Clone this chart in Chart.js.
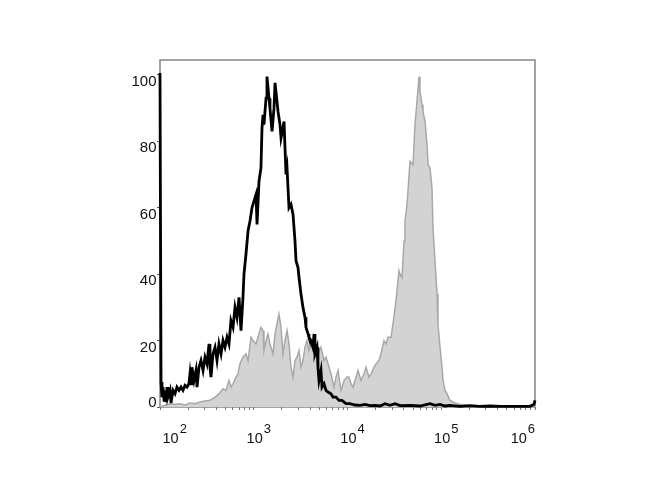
<!DOCTYPE html>
<html><head><meta charset="utf-8">
<script src="https://cdn.jsdelivr.net/npm/chart.js@4"></script>
<style>html,body{margin:0;padding:0;background:#fff}#c{display:block}</style>
</head><body>
<canvas id="c" width="670" height="500"></canvas>
<script>
// log10 fluorescence intensity and event counts (% of max)
const blackLog = [2.000,2.011,2.021,2.032,2.043,2.053,2.064,2.075,2.085,2.107,2.117,2.139,2.160,2.181,2.203,2.224,2.245,2.267,2.288,2.309,2.320,2.331,2.341,2.363,2.384,2.395,2.416,2.437,2.459,2.480,2.501,2.523,2.533,2.544,2.565,2.587,2.608,2.629,2.651,2.672,2.693,2.715,2.736,2.757,2.779,2.800,2.821,2.843,2.864,2.885,2.896,2.917,2.939,2.960,2.981,2.992,3.013,3.024,3.035,3.056,3.077,3.088,3.099,3.109,3.131,3.141,3.163,3.173,3.195,3.216,3.227,3.248,3.259,3.280,3.291,3.312,3.323,3.344,3.355,3.376,3.397,3.419,3.440,3.451,3.472,3.483,3.504,3.525,3.547,3.557,3.579,3.589,3.611,3.632,3.643,3.653,3.675,3.685,3.696,3.717,3.728,3.749,3.771,3.792,3.824,3.845,3.877,3.909,3.941,3.984,4.027,4.080,4.133,4.187,4.240,4.293,4.347,4.400,4.453,4.507,4.560,4.667,4.773,4.880,4.933,4.987,5.040,5.093,5.200,5.307,5.413,5.520,5.627,5.733,5.840,5.947,5.989,6.000];
const blackCount = [100.6,7.5,3,6,2,5,1.5,6,3,5,1.2,5,4,6,5,6,5,6.5,6,7,10,7,12,8,11,6,12,14,11,15,13,19,12,9,16,18,14,19,16,20,18,21,19,26,24,30,27,33,23,33,40,46,53,56,60,61,63,64,55,68,72,84,88,85,93,99.5,93,90,83,90,97.6,92,89,85,81,84,86,70,72,60,61,58,50,44,42,39,34,30,27,24,22,21,20,18,22,16,18,12,8,11,6,7,5,4.5,4,3,3,2,2,1,1,0.6,0.5,0.8,0.4,0.5,0.3,1.0,0.5,1.0,0.4,0.5,0.3,1.0,0.5,0.8,0.3,0.5,0.2,0.4,0.2,0.3,0.2,0.2,0.2,0.2,0.8,2];
const grayLog = [2.000,2.053,2.107,2.160,2.213,2.267,2.320,2.373,2.427,2.480,2.533,2.587,2.629,2.672,2.704,2.736,2.757,2.779,2.811,2.832,2.853,2.885,2.917,2.939,2.971,2.992,3.024,3.045,3.077,3.099,3.109,3.131,3.152,3.173,3.205,3.227,3.248,3.269,3.291,3.312,3.333,3.355,3.376,3.397,3.419,3.440,3.461,3.483,3.504,3.525,3.547,3.568,3.589,3.611,3.632,3.664,3.685,3.717,3.749,3.771,3.792,3.824,3.856,3.877,3.899,3.931,3.963,3.995,4.016,4.037,4.059,4.091,4.112,4.144,4.176,4.197,4.229,4.251,4.283,4.304,4.336,4.357,4.389,4.411,4.432,4.464,4.485,4.517,4.528,4.549,4.560,4.581,4.603,4.613,4.635,4.645,4.667,4.677,4.699,4.720,4.741,4.763,4.773,4.795,4.805,4.827,4.848,4.859,4.880,4.901,4.912,4.933,4.955,4.965,4.987,5.008,5.019,5.040,5.061,5.093,5.125,5.168,5.221,5.275,5.328,5.381,5.467,6.000];
const grayCount = [0,0.5,1,0.8,1,0.6,1.2,1,1.5,1.8,2,3,4,5.5,5,8,6,7,9,10,13,15,16,14,21,20,19,21,24,23,17,20,22,19,16,22,25,28,24,16,20,23,19,12,9,14,15,17,12,14,18,20,17,19,17,15,16,18,14,15,13,10,6,9,11,5,8,9,9,7,6,9,11,8,10,12,9,10,12,13,14,16,20,19,21,21,25,32,35,41,40,39,50,56,61,61,74,74,73,85,92,99.5,95,91,89,86,79,73,72,66,54,44,34,25,18,12,8,5,4,2,1.5,1,0.7,0.5,0.4,0.2,0,0];
const yTickValues = [0,20,40,60,80,100];
const xDecades = [2,3,4,5,6];
const xBase = '10';

const toPts = (xs, ys) => xs.map((x, i) => ({x: x, y: ys[i]}));

const framePlugin = {
  id: 'frame',
  beforeDatasetsDraw(chart) {
    const {ctx, chartArea: a} = chart;
    ctx.save();
    ctx.strokeStyle = '#858585';
    ctx.lineWidth = 1.5;
    ctx.strokeRect(a.left, a.top, a.right - a.left, a.bottom - a.top);
    ctx.restore();
  },
  afterDraw(chart) {
    const {ctx, chartArea: a, scales} = chart;
    ctx.save();
    ctx.fillStyle = '#111111';
    ctx.font = '15px "Liberation Sans", Arial, sans-serif';
    ctx.textAlign = 'right';
    ctx.textBaseline = 'middle';
    yTickValues.forEach(v => {
      const y = Math.min(scales.y.getPixelForValue(v) + 7, a.bottom - 4.5);
      ctx.fillText(String(v), a.left - 3.5, y);
    });
    ctx.textAlign = 'left';
    ctx.textBaseline = 'alphabetic';
    const baseFont = '14.5px "Liberation Sans", Arial, sans-serif';
    const expFont = '13px "Liberation Sans", Arial, sans-serif';
    xDecades.forEach(d => {
      const e = String(d);
      ctx.font = baseFont; const wb = ctx.measureText(xBase).width;
      ctx.font = expFont; const we = ctx.measureText(e).width;
      const w = wb + 1 + we;
      let left = scales.x.getPixelForValue(d) + 5 - w / 2;
      left = Math.max(left, a.left + 2.5);
      if (left + w > a.right) left = a.right - w;
      ctx.font = baseFont; ctx.fillText(xBase, left, a.bottom + 36);
      ctx.font = expFont; ctx.fillText(e, left + wb + 1, a.bottom + 26);
    });
    ctx.restore();
  }
};

const xTicks = [];
xDecades.forEach(d => {
  if (d < 6) { for (let k = 1; k <= 9; k++) xTicks.push(d + Math.log10(k)); }
  else xTicks.push(d);
});

new Chart(document.getElementById('c'), {
  type: 'line',
  data: {
    datasets: [
      {
        data: toPts(blackLog, blackCount),
        borderColor: '#000000',
        borderWidth: 2.8,
        fill: false,
        pointRadius: 0,
        tension: 0,
        clip: 4
      },
      {
        data: toPts(grayLog, grayCount),
        borderColor: '#a8a8a8',
        backgroundColor: '#d3d3d3',
        borderWidth: 1.5,
        fill: 'origin',
        pointRadius: 0,
        tension: 0
      }
    ]
  },
  options: {
    responsive: false,
    animation: false,
    devicePixelRatio: 1,
    layout: {padding: {top: 60, right: 135, left: 0, bottom: 0}},
    plugins: {legend: {display: false}, tooltip: {enabled: false}},
    scales: {
      x: {
        type: 'linear', min: 2, max: 6,
        afterBuildTicks: s => { s.ticks = xTicks.map(v => ({value: v})); },
        afterFit: s => { s.height = 93; },
        ticks: {display: false},
        grid: {drawOnChartArea: false, drawTicks: true, tickLength: 3, color: '#777777', lineWidth: 1},
        border: {display: false}
      },
      y: {
        type: 'linear', min: 0, max: 104.5,
        afterBuildTicks: s => { s.ticks = yTickValues.map(v => ({value: v})); },
        afterFit: s => { s.width = 160; },
        ticks: {display: false},
        grid: {drawOnChartArea: false, drawTicks: true, tickLength: 3, color: '#555555', lineWidth: 1},
        border: {display: false}
      }
    }
  },
  plugins: [framePlugin]
});
</script>
</body></html>
